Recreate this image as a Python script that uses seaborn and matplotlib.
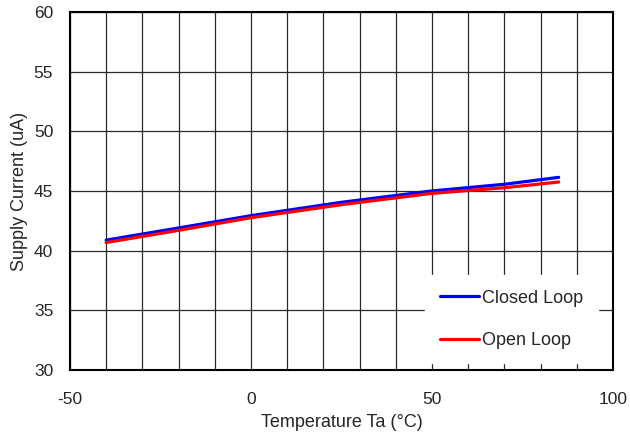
import numpy as np
import pandas as pd
import matplotlib
matplotlib.use("Agg")
import matplotlib.pyplot as plt
from matplotlib.ticker import MultipleLocator
import seaborn as sns

sns.set_style("white")
plt.rcParams['font.family'] = ['Liberation Sans', 'DejaVu Sans']
plt.rcParams['axes.unicode_minus'] = False

# data
temps = [-40, -20, 0, 25, 50, 70, 85]
closed_loop = [40.88, 41.90, 42.93, 44.05, 45.00, 45.56, 46.14]
open_loop = [40.68, 41.70, 42.76, 43.85, 44.80, 45.27, 45.75]

df = pd.DataFrame({
    'temp': temps * 2,
    'current': closed_loop + open_loop,
    'mode': ['Closed Loop'] * len(temps) + ['Open Loop'] * len(temps),
})

fig = plt.figure(figsize=(6.3, 4.41), dpi=100)
ax = fig.add_axes([0.111, 0.161, 0.862, 0.812])

sns.lineplot(data=df, x='temp', y='current', hue='mode',
             palette={'Closed Loop': '#0000ff', 'Open Loop': '#ff0000'},
             linewidth=2.3, ax=ax, zorder=3)

ax.set_xlim(-50, 100)
ax.set_ylim(30, 60)
ax.xaxis.set_major_locator(MultipleLocator(50))
ax.xaxis.set_minor_locator(MultipleLocator(10))
ax.yaxis.set_major_locator(MultipleLocator(5))
ax.grid(True, which='both', color='#2a2a2a', linewidth=0.9)
ax.set_axisbelow(True)

for sp in ax.spines.values():
    sp.set_color('black')
    sp.set_linewidth(1.5)

ax.tick_params(axis='both', which='major', labelsize=12.5, length=3,
               color='black')
ax.tick_params(axis='x', which='major', pad=13)
ax.tick_params(axis='y', which='major', pad=9)
ax.tick_params(axis='x', which='minor', length=0)

ax.set_xlabel('Temperature Ta (°C)', fontsize=13, labelpad=5)
ax.set_ylabel('Supply Current (uA)', fontsize=13, labelpad=4)

leg = ax.legend(loc='upper left', bbox_to_anchor=(0.654, 0.265),
                frameon=True, fancybox=False, fontsize=13,
                handlelength=2.2, handletextpad=0.15, labelspacing=1.4,
                borderpad=0.8, borderaxespad=0.0)
leg.get_frame().set_facecolor('white')
leg.get_frame().set_edgecolor('white')
leg.get_frame().set_alpha(1.0)
leg.set_zorder(5)

plt.savefig('out.png', dpi=100)
plt.close()
